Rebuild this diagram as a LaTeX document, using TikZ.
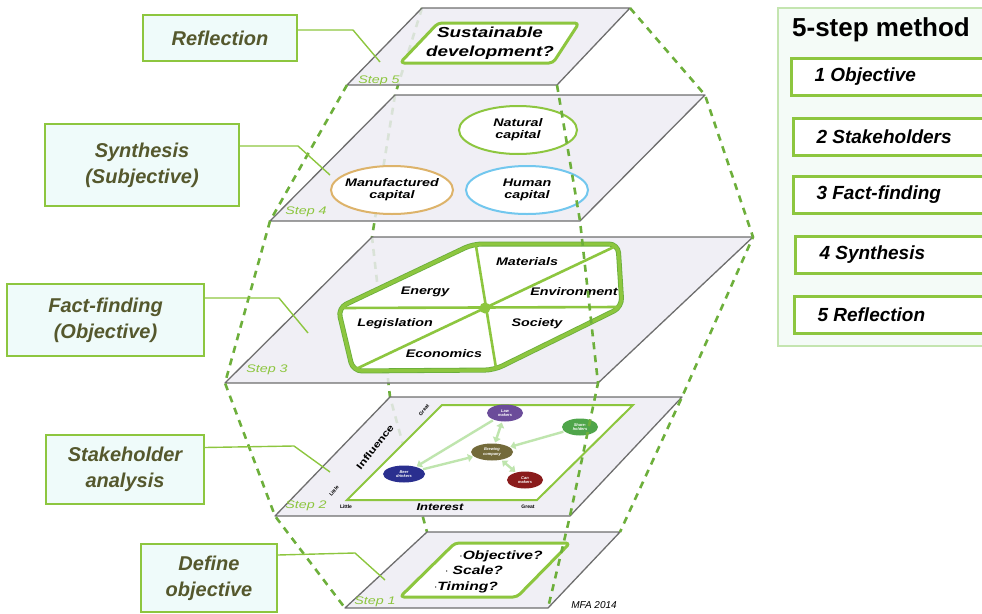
\documentclass[tikz,border=0pt]{standalone}
\usepackage{fontspec}
\setmainfont{Liberation Sans}
\newfontfamily\widefont[FakeStretch=1.3]{Liberation Sans}
\usetikzlibrary{shapes.geometric,arrows.meta}
\definecolor{mgreen}{HTML}{8DC63F}
\definecolor{dgreen}{HTML}{6AAE3C}
\definecolor{dashgreen}{HTML}{6DAF3B}
\definecolor{planefill}{HTML}{EDECF3}
\definecolor{planeedge}{HTML}{6E6E6E}
\definecolor{boxfill}{HTML}{EFFBFA}
\definecolor{labeltext}{HTML}{55582D}
\definecolor{panelfill}{HTML}{F4FBF7}
\definecolor{panelborder}{HTML}{C4E5B0}
\definecolor{natc}{HTML}{8DC63F}
\definecolor{manc}{HTML}{DDB36A}
\definecolor{humc}{HTML}{72C7EE}
\definecolor{lawc}{HTML}{6B4C9A}
\definecolor{sharec}{HTML}{4FA54A}
\definecolor{brewc}{HTML}{736A3A}
\definecolor{beerc}{HTML}{2A2F8F}
\definecolor{canc}{HTML}{8A1C1C}
\definecolor{arrowc}{HTML}{BFE5AE}
\begin{document}
\begin{tikzpicture}[x=1pt,y=-1pt,
  plane/.style={fill=planefill,fill opacity=0.85,draw=planeedge,line width=1.3pt,line join=round},
  chain/.style={draw=dashgreen,line width=2.6pt,dash pattern=on 7pt off 6pt},
  leader/.style={draw=mgreen,line width=1.4pt},
  lbox/.style={draw=mgreen,line width=1.6pt,fill=boxfill,text=labeltext,align=center,inner sep=0pt,
    font=\fontsize{20}{26}\selectfont\bfseries\itshape},
  ibox/.style={draw=mgreen,line width=3pt,fill=white,minimum height=37pt,inner sep=0pt},
  ilabel/.style={anchor=west,font=\fontsize{19}{22}\selectfont\bfseries\itshape},
  innershape/.style={draw=mgreen,line width=3pt,fill=white,rounded corners=4pt,line join=round},
  steplbl/.style={font=\widefont\itshape\fontsize{11}{12}\selectfont,text=mgreen},
  ptext/.style={font=\widefont\bfseries\itshape\fontsize{11}{12}\selectfont,align=center,inner sep=0pt},
  capell/.style={ellipse,line width=2pt,fill=white,inner sep=0pt},
  stake/.style={ellipse,inner sep=0pt,minimum width=36pt,minimum height=17pt,text=white,align=center,
    font=\bfseries\itshape\fontsize{4}{4.5}\selectfont},
  sarrow/.style={draw=arrowc,line width=2.4pt,-{Triangle[length=5pt,width=8pt]},shorten <=1pt,shorten >=1pt},
  sarrowb/.style={sarrow,{Triangle[length=5pt,width=8pt]}-{Triangle[length=5pt,width=8pt]}},
  tiny/.style={font=\bfseries\fontsize{5}{6}\selectfont,inner sep=0pt},
  hexband/.style={line width=5pt,draw=dgreen,line join=round,rounded corners=9pt},
]
\useasboundingbox (0,0) rectangle (982,613);

% plane corners
\coordinate (p5a) at (422,8);   \coordinate (p5b) at (630,8);   \coordinate (p5c) at (557,85);  \coordinate (p5d) at (347,85);
\coordinate (p4a) at (395,95);  \coordinate (p4b) at (705,95);  \coordinate (p4c) at (580,221); \coordinate (p4d) at (270,221);
\coordinate (p3a) at (372,237); \coordinate (p3b) at (753,237); \coordinate (p3c) at (598,383); \coordinate (p3d) at (225,383);
\coordinate (p2a) at (390,397); \coordinate (p2b) at (682,397); \coordinate (p2c) at (570,516); \coordinate (p2d) at (275,516);
\coordinate (p1a) at (427,532); \coordinate (p1b) at (620,532); \coordinate (p1c) at (548,608); \coordinate (p1d) at (345,608);

% hidden (rear) chain
\draw[chain] (p5a)--(p4a)--(p3a)--(p2a)--(p1a);

% planes
\foreach \p in {5,4,3,2,1}{
  \draw[plane] (p\p a)--(p\p b)--(p\p c)--(p\p d)--cycle;
}

% step labels
\node[steplbl] (s5) at (379,81) {Step 5};
\node[steplbl] (s4) at (306,212) {Step 4};
\node[steplbl] (s3) at (267,370) {Step 3};
\node[steplbl] (s2) at (306,506) {Step 2};
\node[steplbl] (s1) at (375,602) {Step 1};

% step 5 content
\draw[innershape] (438,23)--(579,23)--(553,63)--(400,63)--cycle;
\node[ptext,font=\widefont\bfseries\itshape\fontsize{14.5}{19}\selectfont] (sd) at (490,43) {Sustainable\\development?};

% step 4 content
\node[capell,draw=natc,minimum width=118pt,minimum height=48pt] (nat) at (518,130) {};
\node[capell,draw=manc,minimum width=122pt,minimum height=48pt] (man) at (392,190) {};
\node[capell,draw=humc,minimum width=122pt,minimum height=48pt] (hum) at (527,190) {};
\node[ptext] (natt) at (nat.center) {Natural\\capital};
\node[ptext] (mant) at (man.center) {Manufactured\\capital};
\node[ptext] (humt) at (hum.center) {Human\\capital};

% step 3 content
\coordinate (hA) at (473,244); \coordinate (hB) at (618,244); \coordinate (hC) at (622,307);
\coordinate (hD) at (494,370); \coordinate (hE) at (353,371); \coordinate (hF) at (338,308);
\coordinate (hO) at (485,308);
\draw[hexband,fill=white] (hA)--(hB)--(hC)--(hD)--(hE)--(hF)--cycle;
\draw[hexband,draw=mgreen,line width=3.4pt] (hA)--(hB)--(hC)--(hD)--(hE)--(hF)--cycle;
\coordinate (v1) at (476,246); \coordinate (v2) at (496,368);
\coordinate (q1) at (341,308); \coordinate (q2) at (620,307);
\coordinate (d1) at (356,369); \coordinate (d2) at (616,246);
\draw[draw=mgreen,line width=2.6pt] (v1)--(v2) (q1)--(q2) (d1)--(d2);
\fill[mgreen] (hO) circle (5.5pt);
\node[ptext] (en) at (425,292) {Energy};
\node[ptext] (ma) at (527,262) {Materials};
\node[ptext] (ev) at (574,292) {Environment};
\node[ptext] (le) at (395,324) {Legislation};
\node[ptext] (so) at (537,324) {Society};
\node[ptext] (ec) at (444,354) {Economics};

% step 2 content
\draw[draw=mgreen,line width=2pt,fill=white] (442,405)--(633,405)--(537,500)--(347,500)--cycle;
\node[stake,fill=lawc] (law) at (505,413) {Law\\makers};
\node[stake,fill=sharec] (share) at (580,427) {Share-\\holders};
\node[stake,fill=brewc,minimum width=42pt] (brew) at (492,452) {Brewing\\company};
\node[stake,fill=beerc,minimum width=42pt] (beer) at (404,474) {Beer\\drinkers};
\node[stake,fill=canc] (can) at (525,480) {Can\\makers};
\draw[sarrow] (law) -- (beer);
\draw[sarrow] (beer) -- (brew);
\draw[sarrowb] (brew) -- (law);
\draw[sarrow] (share) -- (brew);
\draw[sarrowb] (brew) -- (can);
\node[font=\widefont\bfseries\fontsize{9.5}{10}\selectfont,rotate=52,inner sep=0pt] (infl) at (375,447) {Influence};
\node[tiny,rotate=50] (igreat) at (424,410) {Great};
\node[tiny,rotate=50] (ilittle) at (334,491) {Little};
\node[tiny] (xlittle) at (346,507) {Little};
\node[font=\widefont\bfseries\itshape\fontsize{10}{10}\selectfont,inner sep=0pt] (intr) at (440,507) {Interest};
\node[tiny] (xgreat) at (528,507) {Great};

% step 1 content
\draw[innershape] (455,543)--(570,543)--(517,597)--(400,597)--cycle;
\node[ptext,font=\widefont\bfseries\itshape\fontsize{12}{13}\selectfont] (o1) at (501,556) {$\cdot$Objective?};
\node[ptext,font=\widefont\bfseries\itshape\fontsize{12}{13}\selectfont] (o2) at (474,570) {$\cdot$ Scale?};
\node[ptext,font=\widefont\bfseries\itshape\fontsize{12}{13}\selectfont] (o3) at (466,587) {$\cdot$Timing?};
\node[font=\itshape\fontsize{10}{10}\selectfont,inner sep=0pt] (mfa) at (594,605) {MFA 2014};

% visible chains
\draw[chain] (p5d)--(p4d)--(p3d)--(p2d)--(p1d);
\draw[chain] (p5b)--(p4b)--(p3b)--(p2b)--(p1b);
\draw[chain] (p5c)--(p4c)--(p3c)--(p2c)--(p1c);

% left label boxes
\node[lbox,minimum width=154pt,minimum height=46pt] (refl) at (220,38) {Reflection};
\node[lbox,minimum width=194pt,minimum height=82pt] (synth) at (142,165) {Synthesis\\(Subjective)};
\node[lbox,minimum width=197pt,minimum height=72pt] (fact) at (105.5,320) {Fact-finding\\(Objective)};
\node[lbox,minimum width=158pt,minimum height=69pt] (stk) at (125,469.5) {Stakeholder\\analysis};
\node[lbox,minimum width=136pt,minimum height=68pt] (def) at (209,578) {Define\\objective};

% leader lines
\coordinate (r1) at (353,30);  \coordinate (r2) at (380,62);
\coordinate (y1) at (298,146); \coordinate (y2) at (330,175);
\coordinate (f1) at (279,298); \coordinate (f2) at (308,333);
\coordinate (k1) at (294,446); \coordinate (k2) at (330,472);
\coordinate (e1) at (355,553); \coordinate (e2) at (385,580);
\draw[leader] ([yshift=8pt]refl.east) -- (r1) -- (r2);
\draw[leader] ([yshift=19pt]synth.east) -- (y1) -- (y2);
\draw[leader] ([yshift=22pt]fact.east) -- (f1) -- (f2);
\draw[leader] ([yshift=22pt]stk.east) -- (k1) -- (k2);
\draw[leader] ([yshift=23pt]def.east) -- (e1) -- (e2);

% right panel
\draw[draw=panelborder,line width=1.2pt,fill=panelfill] (778,8) rectangle (990,346);
\node[font=\fontsize{26}{28}\selectfont\bfseries] (title) at (881,30) {5-step method};
\node[ibox,minimum width=200pt,anchor=west] (b1) at (790,76.5) {};
\node[ibox,minimum width=200pt,anchor=west] (b2) at (792,136.5) {};
\node[ibox,minimum width=200pt,anchor=west] (b3) at (792,195) {};
\node[ibox,minimum width=200pt,anchor=west] (b4) at (794,255) {};
\node[ibox,minimum width=200pt,anchor=west] (b5) at (793,315) {};
\node[ilabel] (t1) at (811,76.5) {1 Objective};
\node[ilabel] (t2) at (813,136.5) {2 Stakeholders};
\node[ilabel] (t3) at (813,195) {3 Fact-finding};
\node[ilabel] (t4) at (816,255) {4 Synthesis};
\node[ilabel] (t5) at (814,315) {5 Reflection};
\end{tikzpicture}
\end{document}
